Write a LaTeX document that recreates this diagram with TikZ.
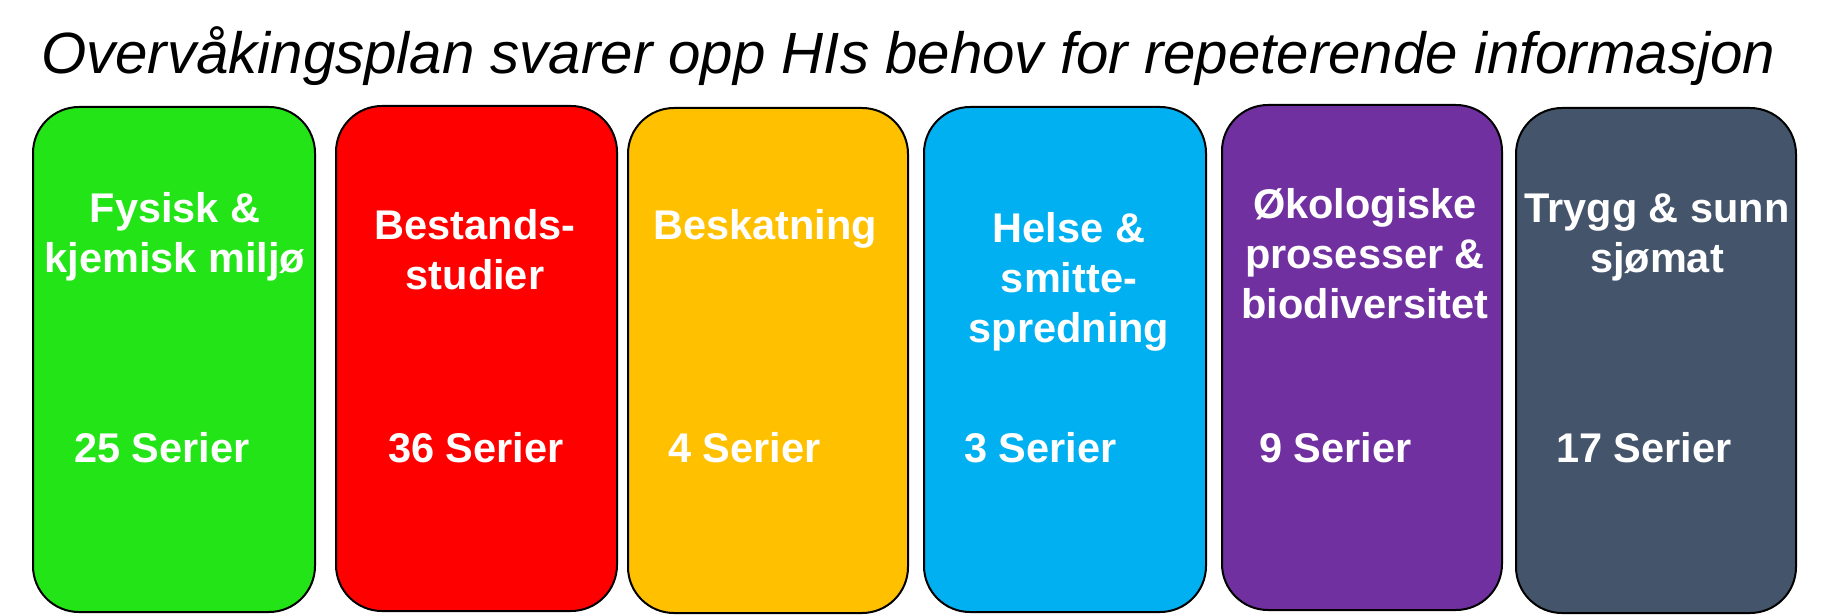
\documentclass[tikz,border=0pt]{standalone}
\usepackage{fontspec}
\setmainfont{Liberation Sans}
\definecolor{cgreen}{RGB}{35,228,23}
\definecolor{cred}{RGB}{255,0,0}
\definecolor{cyellow}{RGB}{255,192,0}
\definecolor{cblue}{RGB}{0,176,240}
\definecolor{cpurple}{RGB}{112,48,160}
\definecolor{cslate}{RGB}{68,84,106}
\tikzset{
  box/.style={draw=black, line width=2pt, rounded corners=46pt, minimum height=505pt, inner sep=0pt},
  lbl/.style={text=white, font=\bfseries\fontsize{41.5}{50}\selectfont, inner sep=0pt, anchor=base},
  ser/.style={text=white, font=\bfseries\fontsize{41.5}{50}\selectfont, inner sep=0pt, anchor=base west},
  ttl/.style={text=black, font=\itshape\fontsize{58.2}{66}\selectfont, inner sep=0pt, anchor=base west}
}
\begin{document}
\begin{tikzpicture}[x=1pt,y=-1pt]
\useasboundingbox (0,0) rectangle (1829,615);
\node[ttl] (title) at (41,74) {Overvåkingsplan svarer opp HIs behov for repeterende informasjon};

\node[box, fill=cgreen, minimum width=282pt] (b1) at (174,359.5) {};
\node[box, fill=cred, minimum width=281pt] (b2) at (476.5,358.5) {};
\node[box, fill=cyellow, minimum width=280pt] (b3) at (768,360.5) {};
\node[box, fill=cblue, minimum width=282pt] (b4) at (1065,359.5) {};
\node[box, fill=cpurple, minimum width=280pt] (b5) at (1362,357.5) {};
\node[box, fill=cslate, minimum width=280pt] (b6) at (1656,360.5) {};

\node[lbl] (t1a) at (175,222) {Fysisk \&};
\node[lbl] (t1b) at (175,272) {kjemisk miljø};
\node[lbl] (t2a) at (475,239) {Bestands-};
\node[lbl] (t2b) at (475,289) {studier};
\node[lbl] (t3a) at (765,239) {Beskatning};
\node[lbl] (t4a) at (1069,242) {Helse \&};
\node[lbl] (t4b) at (1069,292) {smitte-};
\node[lbl] (t4c) at (1069,342) {spredning};
\node[lbl] (t5a) at (1365,218) {Økologiske};
\node[lbl] (t5b) at (1365,268) {prosesser \&};
\node[lbl] (t5c) at (1365,318) {biodiversitet};
\node[lbl] (t6a) at (1657,222) {Trygg \& sunn};
\node[lbl] (t6b) at (1657,272) {sjømat};

\node[ser] (s1) at (74,462) {25 Serier};
\node[ser] (s2) at (388,462) {36 Serier};
\node[ser] (s3) at (668,462) {4 Serier};
\node[ser] (s4) at (964,462) {3 Serier};
\node[ser] (s5) at (1259,462) {9 Serier};
\node[ser] (s6) at (1556,462) {17 Serier};
\end{tikzpicture}
\end{document}
